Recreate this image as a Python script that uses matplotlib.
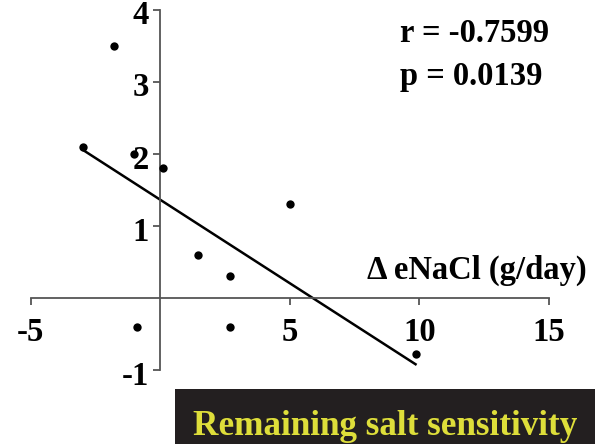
import matplotlib
matplotlib.use("Agg")
from matplotlib import pyplot as plt
from matplotlib.patches import Rectangle
from matplotlib.transforms import ScaledTranslation

# values
delta_enacl = [-3.0, -1.8, -1.0, 0.1, 5.0, 1.45, 2.7, 2.7, -0.9, 9.85]
delta_bp = [2.1, 3.5, 2.0, 1.8, 1.3, 0.6, 0.3, -0.4, -0.4, -0.78]
fit_x = [-3.0, 9.85]
fit_y = [2.06, -0.92]
x_ticks = [-5, 5, 10, 15]
y_ticks = [-1, 1, 2, 3, 4]
r_text = "r = -0.7599"
p_text = "p = 0.0139"
x_label = "\u0394 eNaCl (g/day)"
banner = "Remaining salt sensitivity"

plt.rcParams["font.family"] = ["Liberation Serif", "DejaVu Serif"]
plt.rcParams["font.weight"] = "bold"

fig = plt.figure(figsize=(5.95, 4.44), dpi=100)
ax = fig.add_axes((30.7 / 595, 74 / 444, 518.3 / 595, 360 / 444))
ax.set_xlim(-5, 15)
ax.set_ylim(-1, 4)

ax.scatter(delta_enacl, delta_bp, s=36, color="black", zorder=3, linewidths=0)
ax.plot(fit_x, fit_y, color="black", lw=1.8)

for _s in ["top", "right"]:
    ax.spines[_s].set_visible(False)
ax.spines["left"].set_position(("data", 0))
ax.spines["bottom"].set_position(("data", 0))
for _s in ["left", "bottom"]:
    ax.spines[_s].set_color("#555555")
    ax.spines[_s].set_linewidth(1.3)

ax.set_xticks(x_ticks)
ax.set_yticks(y_ticks)
ax.set_xticklabels([str(t) for t in x_ticks])
ax.set_yticklabels([str(t) for t in y_ticks])
ax.tick_params(axis="both", direction="out", length=5, width=1.3, color="#555555",
               labelsize=23.5)
ax.tick_params(axis="x", pad=9)
ax.tick_params(axis="y", pad=3)
for _lab in ax.get_xticklabels():
    _lab.set_fontweight("bold")
# y labels sit a touch below their ticks in the original
_shift = ScaledTranslation(0, -2.5 / 100, fig.dpi_scale_trans)
for _lab in ax.get_yticklabels():
    _lab.set_fontweight("bold")
    _lab.set_transform(_lab.get_transform() + _shift)

fig.text(400 / 595, 1 - 42 / 444, r_text, fontsize=23.5, fontweight="bold", va="baseline")
fig.text(400 / 595, 1 - 85 / 444, p_text, fontsize=23.5, fontweight="bold", va="baseline")
fig.text(587 / 595, 1 - 279 / 444, x_label, fontsize=23.5, fontweight="bold",
         va="baseline", ha="right")

fig.patches.append(Rectangle((175 / 595, 0), 1 - 175 / 595, 55 / 444,
                             transform=fig.transFigure, facecolor="#231f20",
                             edgecolor="none"))
fig.text(385 / 595, 1 - 435 / 444, banner, fontsize=25.3, fontweight="bold",
         color="#dede3a", va="baseline", ha="center")

fig.savefig("out.png", dpi=100)
